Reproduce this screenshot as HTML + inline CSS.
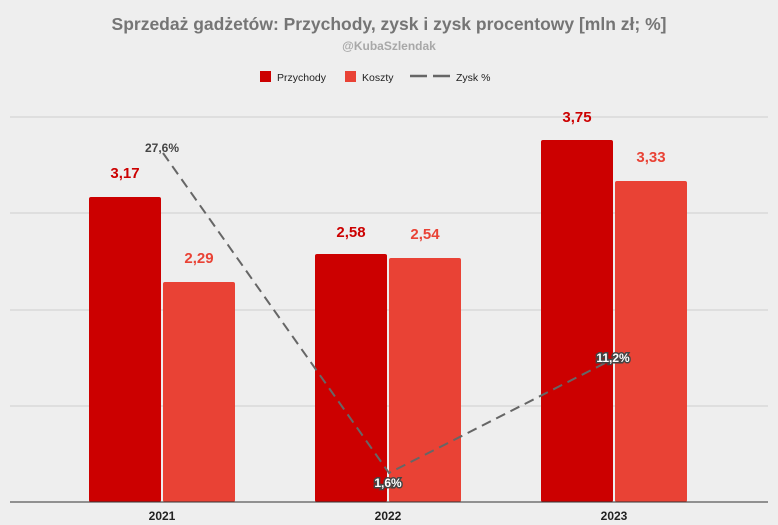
<!DOCTYPE html>
<html><head><meta charset="utf-8"><style>
body{margin:0;background:#eeeeee}
svg{display:block;font-family:"Liberation Sans",sans-serif}
.lbl{paint-order:stroke;stroke:#444;stroke-width:3px;fill:#fff;font-weight:bold;font-size:12px}
</style></head><body>
<svg width="778" height="525" viewBox="0 0 778 525">
<rect width="778" height="525" fill="#eeeeee"/>
<text x="389" y="30" text-anchor="middle" font-size="17.5" font-weight="bold" fill="#757575">Sprzedaż gadżetów: Przychody, zysk i zysk procentowy [mln zł; %]</text>
<text x="389" y="50" text-anchor="middle" font-size="12" font-weight="bold" fill="#a8a8a8">@KubaSzlendak</text>
<rect x="260" y="71" width="11" height="11" fill="#cc0000"/>
<text x="277" y="81" font-size="10.5" fill="#222">Przychody</text>
<rect x="345" y="71" width="11" height="11" fill="#e94235"/>
<text x="362" y="81" font-size="10.5" fill="#222">Koszty</text>
<line x1="410" y1="76" x2="427" y2="76" stroke="#666" stroke-width="2.5"/>
<line x1="433" y1="76" x2="450" y2="76" stroke="#666" stroke-width="2.5"/>
<text x="456" y="81" font-size="10.5" fill="#222">Zysk %</text>
<g stroke="#cfcfcf" stroke-width="1">
<line x1="10" y1="117" x2="768" y2="117"/><line x1="10" y1="213" x2="768" y2="213"/>
<line x1="10" y1="310" x2="768" y2="310"/><line x1="10" y1="406" x2="768" y2="406"/>
</g>
<g fill="#cc0000">
<rect x="89" y="197" width="72" height="305" rx="2"/>
<rect x="315" y="254" width="72" height="248" rx="2"/>
<rect x="541" y="140" width="72" height="362" rx="2"/>
</g>
<g fill="#e94235">
<rect x="163" y="282" width="72" height="220" rx="2"/>
<rect x="389" y="258" width="72" height="244" rx="2"/>
<rect x="615" y="181" width="72" height="321" rx="2"/>
</g>
<line x1="10" y1="502" x2="768" y2="502" stroke="#333" stroke-width="1"/>
<g font-size="15" font-weight="bold" text-anchor="middle">
<text x="125" y="178" fill="#cc0000">3,17</text>
<text x="199" y="263" fill="#e94235">2,29</text>
<text x="351" y="237" fill="#cc0000">2,58</text>
<text x="425" y="239" fill="#e94235">2,54</text>
<text x="577" y="122" fill="#cc0000">3,75</text>
<text x="651" y="162" fill="#e94235">3,33</text>
</g>
<polyline points="163,153 389,473 615,358" fill="none" stroke="#666" stroke-width="2" stroke-dasharray="10,6"/>
<text x="162" y="152" text-anchor="middle" font-size="12" font-weight="bold" fill="#444">27,6%</text>
<text class="lbl" x="388" y="487" text-anchor="middle">1,6%</text>
<text class="lbl" x="613" y="362" text-anchor="middle">11,2%</text>
<g font-size="12" font-weight="bold" text-anchor="middle" fill="#222">
<text x="162" y="520">2021</text><text x="388" y="520">2022</text><text x="614" y="520">2023</text>
</g>
</svg>
</body></html>
